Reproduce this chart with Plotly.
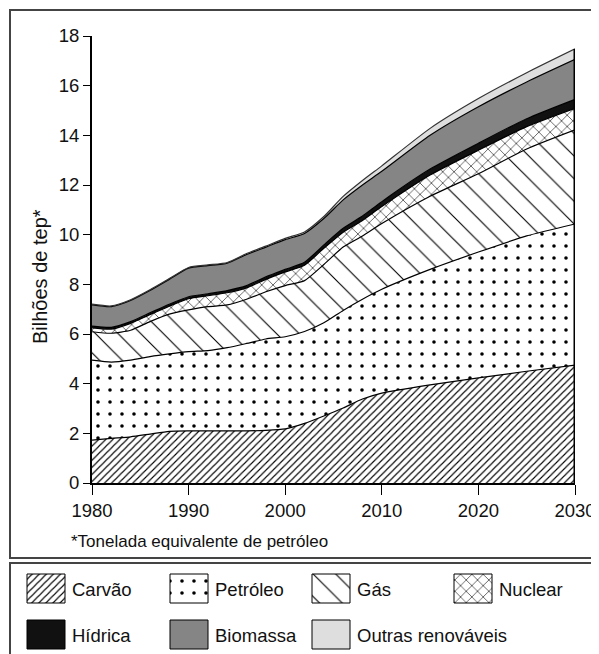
import plotly.graph_objects as go

# ---------------- data (billions of toe) ----------------
years = [1980, 1982, 1984, 1986, 1988, 1990, 1992, 1994, 1996, 1998, 2000,
         2002, 2004, 2006, 2008, 2010, 2015, 2020, 2025, 2030]

carvao = [1.73, 1.80, 1.86, 1.97, 2.08, 2.10, 2.10, 2.10, 2.10, 2.12, 2.18,
          2.40, 2.70, 3.02, 3.38, 3.62, 3.95, 4.23, 4.50, 4.75]
petroleo = [3.22, 3.07, 3.09, 3.12, 3.12, 3.19, 3.23, 3.35, 3.52, 3.68, 3.71,
            3.70, 3.75, 3.93, 4.02, 4.18, 4.65, 5.07, 5.45, 5.68]
gas = [1.14, 1.16, 1.20, 1.41, 1.60, 1.68, 1.77, 1.72, 1.78, 1.90, 2.06,
       2.05, 2.35, 2.55, 2.55, 2.65, 2.95, 3.15, 3.50, 3.79]
nuclear = [0.16, 0.17, 0.28, 0.28, 0.32, 0.45, 0.44, 0.49, 0.46, 0.50, 0.55,
           0.62, 0.65, 0.60, 0.62, 0.68, 0.85, 0.95, 0.90, 0.87]
hidrica = [0.07, 0.07, 0.07, 0.07, 0.08, 0.08, 0.08, 0.09, 0.09, 0.10, 0.10,
           0.12, 0.14, 0.16, 0.18, 0.20, 0.24, 0.28, 0.32, 0.36]
biomassa = [0.85, 0.83, 0.85, 0.90, 1.00, 1.15, 1.13, 1.10, 1.25, 1.20, 1.20,
            1.16, 1.06, 1.14, 1.25, 1.22, 1.36, 1.47, 1.48, 1.61]
outras = [0.03, 0.03, 0.03, 0.03, 0.03, 0.03, 0.03, 0.03, 0.04, 0.04, 0.05,
          0.06, 0.08, 0.14, 0.18, 0.22, 0.28, 0.33, 0.37, 0.42]

series_names = ["Carvão", "Petróleo", "Gás", "Nuclear", "Hídrica", "Biomassa", "Outras renováveis"]
series_values = [carvao, petroleo, gas, nuclear, hidrica, biomassa, outras]

x_ticks = [1980, 1990, 2000, 2010, 2020, 2030]
y_ticks = [0, 2, 4, 6, 8, 10, 12, 14, 16, 18]
y_title = "Bilhões de tep*"
footnote = "*Tonelada equivalente de petróleo"

# ---------------- styles ----------------
W, H = 599, 654
OFF = 8  # page body margin: screen pixel = figure pixel + OFF
FONT = "Liberation Sans, Arial, sans-serif"


def px(sx):
    """screen x pixel -> paper fraction"""
    return (sx - OFF) / W


def py(sy):
    """screen y pixel -> paper fraction"""
    return 1 - (sy - OFF) / H


def pat(shape, size, solidity):
    return dict(shape=shape, size=size, solidity=solidity,
                fgcolor="black", bgcolor="white", fillmode="replace")


styles = {
    "Carvão": dict(fillcolor="white", fillpattern=pat("/", 5, 0.22), line="black"),
    "Petróleo": dict(fillcolor="white", fillpattern=pat(".", 12, 0.07), line="black"),
    "Gás": dict(fillcolor="white", fillpattern=pat("\\", 16, 0.07), line="black"),
    "Nuclear": dict(fillcolor="white", fillpattern=pat("x", 8, 0.14), line="black"),
    "Hídrica": dict(fillcolor="#111111", fillpattern=None, line="black"),
    "Biomassa": dict(fillcolor="#858585", fillpattern=None, line="black"),
    "Outras renováveis": dict(fillcolor="#dedede", fillpattern=None, line="#333333"),
}

fig = go.Figure()

for name, vals in zip(series_names, series_values):
    st = styles[name]
    kw = dict(x=years, y=vals, name=name, mode="lines", stackgroup="one",
              line=dict(color=st["line"], width=1.2, shape="spline", smoothing=0.6),
              fillcolor=st["fillcolor"], hoverinfo="skip")
    if st["fillpattern"] is not None:
        kw["fillpattern"] = st["fillpattern"]
    fig.add_trace(go.Scatter(**kw))

# right edge of the stacked area (last year, from 0 to total)
total_last = sum(v[-1] for v in series_values)
fig.add_trace(go.Scatter(x=[years[-1], years[-1]], y=[0, total_last], mode="lines",
                         line=dict(color="black", width=3), hoverinfo="skip"))

# ---------------- custom legend (helper axis in screen pixels) ----------------
col_x = [27, 170, 312, 454]
row_y = [574, 620]
sw_w, sw_h = 38, 29
annotations = []
for i, name in enumerate(series_names):
    r, c = divmod(i, 4)
    x0, y0 = col_x[c], row_y[r]
    st = styles[name]
    kw = dict(x=[x0, x0 + sw_w, x0 + sw_w, x0, x0],
              y=[y0, y0, y0 + sw_h, y0 + sw_h, y0],
              mode="lines", fill="toself", fillcolor=st["fillcolor"],
              line=dict(color="black", width=1), xaxis="x2", yaxis="y2",
              hoverinfo="skip")
    if st["fillpattern"] is not None:
        kw["fillpattern"] = st["fillpattern"]
    fig.add_trace(go.Scatter(**kw))
    annotations.append(dict(x=x0 + sw_w + 5, y=y0 + sw_h / 2 + 1, xref="x2", yref="y2",
                            text=name, showarrow=False, xanchor="left", yanchor="middle",
                            font=dict(family=FONT, size=18.5, color="#111111")))

annotations.append(dict(x=px(40), y=py(277), xref="paper", yref="paper", text=y_title,
                        textangle=-90, showarrow=False, xanchor="center", yanchor="middle",
                        font=dict(family=FONT, size=20, color="#111111")))
annotations.append(dict(x=px(69), y=py(541), xref="paper", yref="paper", text=footnote,
                        showarrow=False, xanchor="left", yanchor="middle",
                        font=dict(family=FONT, size=17, color="#111111")))

shapes = [
    dict(type="rect", xref="paper", yref="paper", x0=px(10), x1=px(612), y0=py(10), y1=py(558),
         line=dict(color="#444444", width=2), fillcolor="rgba(0,0,0,0)"),
    dict(type="rect", xref="paper", yref="paper", x0=px(10), x1=px(612), y0=py(563), y1=py(670),
         line=dict(color="#444444", width=2), fillcolor="rgba(0,0,0,0)"),
]

fig.update_layout(
    template="none",
    width=W, height=H, autosize=False,
    margin=dict(l=0, r=0, t=0, b=0, pad=0, autoexpand=False),
    paper_bgcolor="white", plot_bgcolor="white", showlegend=False,
    font=dict(family=FONT, size=18, color="#111111"),
    xaxis=dict(domain=[px(92), px(575)], range=[1980, 2030], tickvals=x_ticks,
               ticks="outside", ticklen=10, tickwidth=1, tickcolor="black", automargin=False,
               showline=True, linewidth=2, linecolor="black", showgrid=False, zeroline=False,
               tickfont=dict(family=FONT, size=18.5, color="#111111")),
    yaxis=dict(domain=[py(483), py(36)], range=[0, 18], tickvals=y_ticks,
               ticks="outside", ticklen=7, tickwidth=1, tickcolor="black", automargin=False,
               showline=True, linewidth=2, linecolor="black", showgrid=False, zeroline=False,
               tickfont=dict(family=FONT, size=18.5, color="#111111")),
    xaxis2=dict(domain=[0, 1], range=[OFF, OFF + W], visible=False, anchor="y2",
                fixedrange=True, automargin=False),
    yaxis2=dict(domain=[0, py(563)], range=[OFF + H, 563], visible=False, anchor="x2",
                fixedrange=True, automargin=False),
    annotations=annotations, shapes=shapes,
)

fig.write_html("out.html")
